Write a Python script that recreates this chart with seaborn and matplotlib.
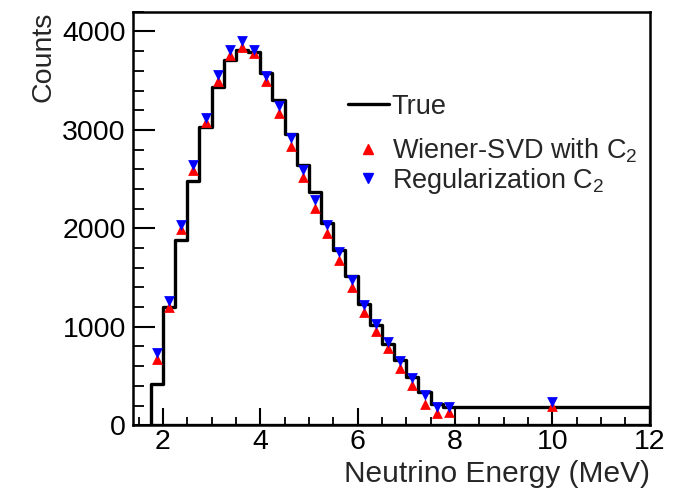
import numpy as np
import pandas as pd
import matplotlib
matplotlib.use("Agg")
import matplotlib.pyplot as plt
from matplotlib.lines import Line2D
from matplotlib.ticker import MultipleLocator
import seaborn as sns

# ---- data ----
bin_edges = [1.75, 2.0, 2.25, 2.5, 2.75, 3.0, 3.25, 3.5, 3.75, 4.0, 4.25, 4.5, 4.75,
             5.0, 5.25, 5.5, 5.75, 6.0, 6.25, 6.5, 6.75, 7.0, 7.25, 7.5, 7.75, 8.0, 12.0]
bin_centers = [1.875, 2.125, 2.375, 2.625, 2.875, 3.125, 3.375, 3.625, 3.875, 4.125,
               4.375, 4.625, 4.875, 5.125, 5.375, 5.625, 5.875, 6.125, 6.375, 6.625,
               6.875, 7.125, 7.375, 7.625, 7.875, 10.0]
true_counts = [420, 1200, 1880, 2480, 3030, 3440, 3710, 3810, 3790, 3580,
               3300, 2960, 2640, 2370, 2050, 1780, 1520, 1235, 1015, 830,
               660, 490, 340, 220, 190, 185]
wiener_counts = [670, 1200, 1990, 2590, 3080, 3500, 3760, 3840, 3780, 3500,
                 3170, 2840, 2520, 2210, 1950, 1680, 1400, 1150, 960, 780,
                 580, 410, 220, 120, 130, 195]
reg_counts = [730, 1260, 2030, 2640, 3120, 3560, 3810, 3900, 3810, 3550,
              3240, 2920, 2590, 2290, 2030, 1760, 1480, 1220, 1030, 850,
              650, 480, 310, 190, 190, 240]
labels = ["True", "Wiener-SVD with C$_2$", "Regularization C$_2$"]

df = pd.DataFrame({"E": bin_centers, "true": true_counts,
                   "wiener": wiener_counts, "reg": reg_counts})

sns.set_theme(style="white")
plt.rcParams["font.family"] = ["Liberation Sans", "DejaVu Sans"]
plt.rcParams["mathtext.fontset"] = "custom"
plt.rcParams["mathtext.rm"] = "Liberation Sans"
plt.rcParams["mathtext.it"] = "Liberation Sans"

fig = plt.figure(figsize=(6.81, 4.91), dpi=100)
ax = fig.add_axes([0.195, 0.134, 0.759, 0.842])

sns.histplot(data=df, x="E", weights="true", bins=bin_edges, element="step",
             fill=True, color="black", linewidth=2.4, ax=ax)
for coll in ax.collections:
    coll.set_facecolor("none")
    coll.set_edgecolor("black")
    coll.set_alpha(1)
    coll.set_linewidth(2.4)

sns.scatterplot(data=df, x="E", y="wiener", marker="^", color="#ff0000", s=60,
                linewidth=0, ax=ax, zorder=3)
sns.scatterplot(data=df, x="E", y="reg", marker="v", color="#0000ff", s=60,
                linewidth=0, ax=ax, zorder=4)

ax.set_xlim(1.38, 12)
ax.set_ylim(0, 4200)
ax.xaxis.set_major_locator(MultipleLocator(2))
ax.xaxis.set_minor_locator(MultipleLocator(0.5))
ax.yaxis.set_major_locator(MultipleLocator(1000))
ax.yaxis.set_minor_locator(MultipleLocator(200))
ax.tick_params(axis="both", which="both", direction="in", colors="black",
               bottom=True, left=True, top=False, right=False, labelsize=20.5)
ax.tick_params(axis="x", which="major", length=12, width=1.5, pad=3)
ax.tick_params(axis="x", which="minor", length=6, width=1.3)
ax.tick_params(axis="y", which="major", length=16, width=1.5, pad=5)
ax.tick_params(axis="y", which="minor", length=8, width=1.3)
for sp in ax.spines.values():
    sp.set_color("black")
    sp.set_linewidth(1.8)

ax.set_xlabel("Neutrino Energy (MeV)", fontsize=21.5, loc="right")
ax.set_ylabel("Counts", fontsize=20.5, loc="top")
ax.xaxis.set_label_coords(1.0, -0.083)
ax.yaxis.set_label_coords(-0.147, 1.0)

h_true = [Line2D([], [], color="black", lw=2.4)]
h_mark = [Line2D([], [], marker="^", color="#ff0000", ls="none", markersize=7),
          Line2D([], [], marker="v", color="#0000ff", ls="none", markersize=7)]
leg1 = ax.legend(h_true, labels[:1], loc="upper left", bbox_to_anchor=(0.39, 0.834),
                 frameon=False, fontsize=19.5, handlelength=1.5, handletextpad=0.12,
                 borderpad=0)
ax.add_artist(leg1)
ax.legend(h_mark, labels[1:], loc="upper left", bbox_to_anchor=(0.39, 0.732),
          frameon=False, fontsize=19.5, handlelength=1.5, handletextpad=0.12,
          labelspacing=0.05, borderpad=0)

fig.savefig("out.png", dpi=100)
